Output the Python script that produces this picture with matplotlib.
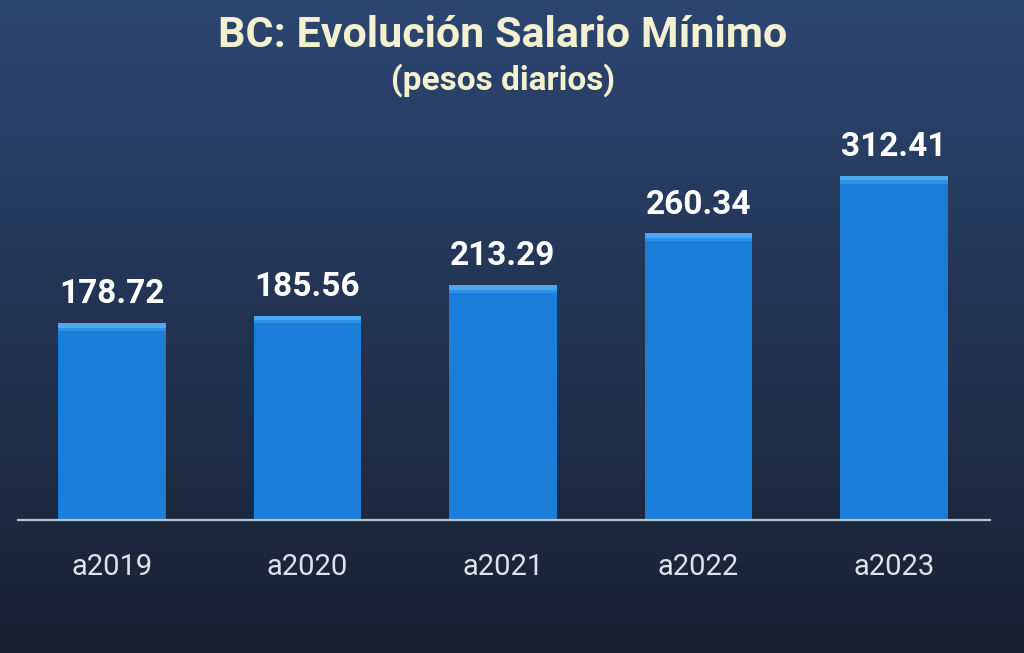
import numpy as np
import matplotlib.pyplot as plt

plt.rcParams['font.family'] = ['Roboto', 'DejaVu Sans']

years = ["a2019", "a2020", "a2021", "a2022", "a2023"]
salario = [178.72, 185.56, 213.29, 260.34, 312.41]

fig = plt.figure(figsize=(10.24, 6.53), dpi=100)

# fondo degradado
bg = fig.add_axes([0, 0, 1, 1])
grad = np.linspace(0, 1, 256).reshape(-1, 1)
top = np.array([0x2c, 0x46, 0x72]) / 255
bot = np.array([0x19, 0x21, 0x32]) / 255
img = top + (bot - top) * grad[:, :, None]
bg.imshow(img, aspect="auto", extent=[0, 1, 0, 1])
bg.axis("off")

ax = fig.add_axes([18 / 1024, 133 / 653, 972 / 1024, 374.3 / 653])
ax.patch.set_alpha(0)
x = np.arange(len(years))
w = 0.55
ax.bar(x, salario, width=w, color="#1a7ed8", zorder=2)
# brillo superior del bisel
ax.bar(x, [4] * len(x), bottom=np.array(salario) - 4, width=w, color="#49a8f0", zorder=3)
ax.bar(x, [3] * len(x), bottom=np.array(salario) - 7, width=w, color="#2f90e4", zorder=3)

for xi, v in zip(x, salario):
    ax.text(xi, v + 18, f"{v:.2f}", ha="center", va="baseline", color="white",
            fontsize=24, fontweight="bold")

ax.set_xlim(-0.481, 4.491)
ax.set_ylim(0, 340)
ax.set_xticks(x)
ax.set_xticklabels(years, color="#dde3ea", fontsize=21)
ax.tick_params(axis="x", length=0, pad=24)
ax.set_yticks([])
for s in ["top", "right", "left"]:
    ax.spines[s].set_visible(False)
ax.spines["bottom"].set_color("#b8c4d4")
ax.spines["bottom"].set_linewidth(1.6)

fig.text(0.491, 0.945, "BC: Evolución Salario Mínimo", ha="center", va="center",
         color="#f3f1cf", fontsize=31, fontweight="bold")
fig.text(0.491, 0.877, "(pesos diarios)", ha="center", va="center",
         color="#f3f1cf", fontsize=24, fontweight="bold")

fig.savefig("out.png", dpi=100)
